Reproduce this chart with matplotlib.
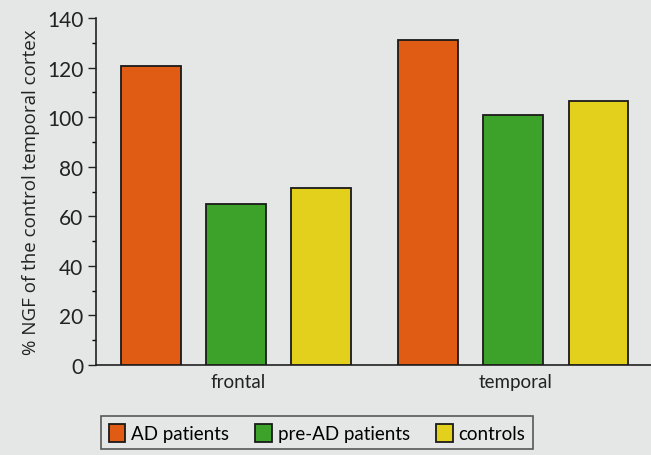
import numpy as np
import matplotlib
matplotlib.use("Agg")
import matplotlib.pyplot as plt
from matplotlib.patches import Patch
from matplotlib.ticker import MultipleLocator

# data
regions = ["frontal", "temporal"]
groups = ["AD patients", "pre-AD patients", "controls"]
ad_values = [120.5, 131]
pre_ad_values = [65, 101]
control_values = [71.5, 106.5]
colors = ["#e05c14", "#3da22a", "#e2d01c"]

bg = "#e5e7e7"
plt.rcParams["font.family"] = ["Lato", "DejaVu Sans"]

fig = plt.figure(figsize=(6.51, 4.56), dpi=100, facecolor=bg)
ax = fig.add_axes([96 / 651, 1 - 366 / 456, 1 - 96 / 651, (366 - 19) / 456])
ax.set_facecolor(bg)

centers = np.array([0.0, 3.26])
width = 0.7
for i, (vals, col) in enumerate(zip([ad_values, pre_ad_values, control_values], colors)):
    ax.bar(centers + (i - 1), vals, width=width, color=col,
           edgecolor="#1a1a1a", linewidth=1.3, zorder=3)

ax.set_xlim(-1.647, 4.88)
ax.set_ylim(0, 140)
ax.yaxis.set_major_locator(MultipleLocator(20))
ax.yaxis.set_minor_locator(MultipleLocator(10))
ax.set_xticks(centers + 0.03)
ax.set_xticklabels(regions, fontsize=13.5, color="#222222")
ax.tick_params(axis="x", length=0, pad=6)
ax.tick_params(axis="y", which="major", length=6, width=1, labelsize=15,
               colors="#222222", pad=3)
ax.tick_params(axis="y", which="minor", length=3, width=1)

for s in ["top", "right"]:
    ax.spines[s].set_visible(False)
for s in ["left", "bottom"]:
    ax.spines[s].set_linewidth(1.2)
    ax.spines[s].set_color("#222222")

ax.set_ylabel("% NGF of the control temporal cortex", fontsize=13.5,
              color="#222222", labelpad=5, family=["Open Sans", "DejaVu Sans"])

handles = [Patch(facecolor=c, edgecolor="#1a1a1a", linewidth=1.3) for c in colors]
leg = fig.legend(handles, groups, loc="upper left",
                 bbox_to_anchor=(101 / 651, 1 - 417 / 456), ncol=3,
                 fontsize=13.5, frameon=True, fancybox=False, facecolor=bg,
                 edgecolor="#333333", handlelength=0.9, handleheight=1.1,
                 handletextpad=0.3, columnspacing=1.4, borderpad=0.4,
                 borderaxespad=0)
leg.get_frame().set_linewidth(1.2)

fig.savefig("out.png", dpi=100, facecolor=bg)
